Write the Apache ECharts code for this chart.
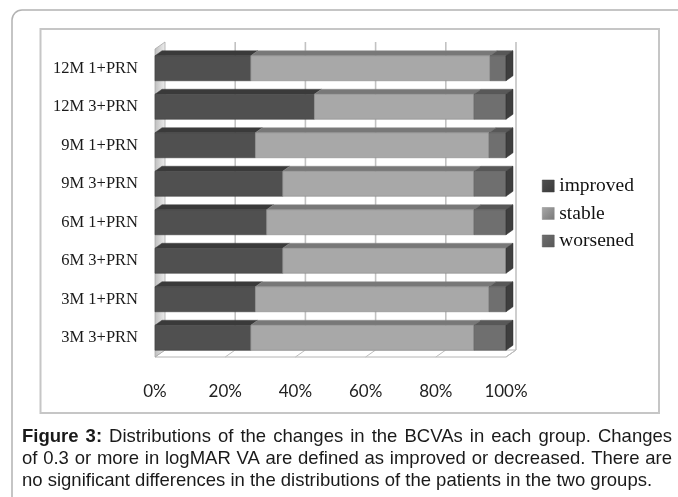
<!DOCTYPE html>
<html>
<head>
<meta charset="utf-8">
<script src="https://cdn.jsdelivr.net/npm/echarts@6/dist/echarts.min.js"></script>
<style>
  html, body { margin: 0; padding: 0; background: #ffffff; }
  #chart { width: 678px; height: 497px; }
</style>
</head>
<body>
<div id="chart"></div>
<script>
// Groups, listed bottom to top on the category axis
const categories = ['3M 3+PRN', '3M 1+PRN', '6M 3+PRN', '6M 1+PRN', '9M 3+PRN', '9M 1+PRN', '12M 3+PRN', '12M 1+PRN'];
// Share of patients (%) in each outcome class
const improved = [27.3, 28.6, 36.4, 31.8, 36.4, 28.6, 45.4, 27.3];
const stable   = [63.6, 66.6, 63.6, 59.1, 54.5, 66.6, 45.5, 68.2];
const worsened = [9.1, 4.8, 0, 9.1, 9.1, 4.8, 9.1, 4.5];
const seriesNames = ['improved', 'stable', 'worsened'];
const tickValues = [0, 20, 40, 60, 80, 100];

const captionLead = ['Figure', '3:'];
const captionLines = [
  'Distributions of the changes in the BCVAs in each group. Changes',
  'of 0.3 or more in logMAR VA are defined as improved or decreased. There are',
  'no significant differences in the distributions of the patients in the two groups.'
];

// 3D look: depth offset of the walls and of the bars
const WALL_DX = 10, WALL_DY = -7;
const BAR_DX = 7, BAR_DY = -5;

const palette = {
  improved: { front: '#505050', top: '#3a3a3a', side: '#333333', edge: '#404040' },
  stable:   { front: '#a8a8a8', top: '#787878', side: '#404040', edge: '#8a8a8a' },
  worsened: { front: '#6f6f6f', top: '#585858', side: '#3e3e3e', edge: '#5a5a5a' }
};

const valueLists = [improved, stable, worsened];

// Build [categoryIndex, start, end, isLastSegment] rows for each outcome class
function segmentRows(k) {
  return categories.map(function (_, i) {
    let start = 0;
    for (let j = 0; j < k; j++) start += valueLists[j][i];
    const end = start + valueLists[k][i];
    let lastK = 0;
    for (let j = 0; j < valueLists.length; j++) if (valueLists[j][i] > 0) lastK = j;
    return [i, start, end, lastK === k ? 1 : 0];
  });
}

function makeBarRenderer(colors) {
  return function (params, api) {
    const cat = api.value(0), s = api.value(1), e = api.value(2), last = api.value(3);
    if (e - s <= 0) return { type: 'group', children: [] };
    const a = api.coord([s, cat]);
    const b = api.coord([e, cat]);
    const h = api.size([0, 1])[1] * 0.65;
    const top = a[1] - h / 2, bot = a[1] + h / 2;
    const children = [
      {
        type: 'polygon',
        shape: { points: [[a[0], top], [b[0], top], [b[0] + BAR_DX, top + BAR_DY], [a[0] + BAR_DX, top + BAR_DY]] },
        style: { fill: colors.top, stroke: colors.edge, lineWidth: 0.5 }
      },
      {
        type: 'rect',
        shape: { x: a[0], y: top, width: b[0] - a[0], height: h },
        style: { fill: colors.front, stroke: colors.edge, lineWidth: 0.6 }
      }
    ];
    if (last) {
      children.push({
        type: 'polygon',
        shape: { points: [[b[0], top], [b[0] + BAR_DX, top + BAR_DY], [b[0] + BAR_DX, bot + BAR_DY], [b[0], bot]] },
        style: { fill: colors.side, stroke: '#2e2e2e', lineWidth: 0.5 }
      });
    }
    return { type: 'group', children: children };
  };
}

// Floor, left wall and back-wall gridlines, one item per tick value
function renderWalls(params, api) {
  const cs = params.coordSys;
  const x = api.coord([api.value(0), 0])[0];
  const top = cs.y, bot = cs.y + cs.height;
  const x0 = cs.x, x1 = cs.x + cs.width;
  const children = [];
  if (params.dataIndex === 0) {
    children.push({
      type: 'polygon',
      shape: { points: [[x0, bot], [x1, bot], [x1 + WALL_DX, bot + WALL_DY], [x0 + WALL_DX, bot + WALL_DY]] },
      style: { fill: '#ffffff', stroke: '#b4b4b4', lineWidth: 1 }
    });
    children.push({
      type: 'polygon',
      shape: { points: [[x0, bot], [x0, top], [x0 + WALL_DX, top + WALL_DY], [x0 + WALL_DX, bot + WALL_DY]] },
      style: {
        fill: new echarts.graphic.LinearGradient(0, 0, 1, 0, [
          { offset: 0, color: '#bdbdbd' }, { offset: 1, color: '#eeeeee' }
        ]),
        stroke: '#a8a8a8', lineWidth: 0.8
      }
    });
  } else {
    children.push({
      type: 'line',
      shape: { x1: x + WALL_DX, y1: top + WALL_DY, x2: x + WALL_DX, y2: bot + WALL_DY },
      style: { stroke: '#c2c2c2', lineWidth: 1.6 }
    });
    children.push({
      type: 'line',
      shape: { x1: x, y1: bot, x2: x + WALL_DX, y2: bot + WALL_DY },
      style: { stroke: '#bdbdbd', lineWidth: 1 }
    });
  }
  return { type: 'group', children: children };
}

// Caption laid out word by word so the full lines are justified
const CAP_FONT = '"Liberation Sans", Arial, sans-serif';
const CAP_SIZE = 18.5;
const CAP_LEFT = 22, CAP_RIGHT = 672;
const measureCtx = document.createElement('canvas').getContext('2d');
function wordWidth(w, bold) {
  measureCtx.font = (bold ? 'bold ' : '') + CAP_SIZE + 'px ' + CAP_FONT;
  return measureCtx.measureText(w).width;
}
function captionGraphics() {
  const out = [];
  const lineTops = [427, 449.5, 471.5];
  captionLines.forEach(function (line, li) {
    let words = line.split(' ').map(function (w) { return { t: w, b: false }; });
    if (li === 0) words = captionLead.map(function (w) { return { t: w, b: true }; }).concat(words);
    const widths = words.map(function (w) { return wordWidth(w.t, w.b); });
    const total = widths.reduce(function (s, v) { return s + v; }, 0);
    const justify = li < captionLines.length - 1;
    const gap = justify ? (CAP_RIGHT - CAP_LEFT - total) / (words.length - 1) : wordWidth(' ', false);
    let x = CAP_LEFT;
    words.forEach(function (w, wi) {
      out.push({
        type: 'text', x: x, y: lineTops[li], silent: true,
        style: {
          text: w.t, fill: '#1a1a1a', font: (w.b ? 'bold ' : '') + CAP_SIZE + 'px ' + CAP_FONT,
          verticalAlign: 'top'
        }
      });
      x += widths[wi] + gap;
    });
  });
  return out;
}

const chart = echarts.init(document.getElementById('chart'), null, { renderer: 'canvas' });

const barSeries = seriesNames.map(function (name, k) {
  return {
    name: name,
    type: 'custom',
    coordinateSystem: 'cartesian2d',
    renderItem: makeBarRenderer(palette[name]),
    itemStyle: { color: palette[name].front },
    encode: { x: [1, 2], y: 0 },
    data: segmentRows(k),
    z: 3,
    silent: true
  };
});

const option = {
  animation: false,
  backgroundColor: '#ffffff',
  grid: { left: 155, right: 172, top: 49, bottom: 140, containLabel: false },
  xAxis: {
    type: 'value', min: 0, max: 100, interval: 20,
    axisLine: { show: false }, axisTick: { show: false }, splitLine: { show: false },
    axisLabel: {
      formatter: '{value}%', margin: 26, color: '#222222',
      fontFamily: 'Lato', fontSize: 17
    }
  },
  yAxis: {
    type: 'category', data: categories,
    axisLine: { show: false }, axisTick: { show: false },
    axisLabel: { margin: 17, color: '#1a1a1a', fontFamily: '"Liberation Serif", "Times New Roman", serif', fontSize: 16.5 }
  },
  legend: {
    orient: 'vertical', left: 542, top: 176, padding: 0,
    itemWidth: 12, itemHeight: 12, itemGap: 7.5, icon: 'rect',
    textStyle: { fontFamily: '"Liberation Serif", "Times New Roman", serif', fontSize: 19.5, color: '#111111' },
    data: seriesNames.map(function (n) {
      return {
        name: n,
        itemStyle: {
          color: new echarts.graphic.LinearGradient(0, 0, 1, 1, [
            { offset: 0, color: palette[n].front }, { offset: 1, color: palette[n].top }
          ]),
          borderColor: palette[n].edge, borderWidth: 0.5
        }
      };
    })
  },
  graphic: [
    {
      type: 'rect', silent: true, z: -10,
      shape: { x: 12, y: 10, width: 720, height: 520, r: 10 },
      style: { fill: 'none', stroke: '#b2b2b2', lineWidth: 1.5 }
    },
    {
      type: 'rect', silent: true, z: -9,
      shape: { x: 40.5, y: 29, width: 618.5, height: 384 },
      style: { fill: 'none', stroke: '#c6c6c6', lineWidth: 2 }
    }
  ].concat(captionGraphics()),
  series: [
    {
      name: 'walls', type: 'custom', coordinateSystem: 'cartesian2d',
      renderItem: renderWalls, encode: { x: 0 },
      data: tickValues.map(function (v) { return [v]; }),
      z: 1, silent: true
    }
  ].concat(barSeries)
};

chart.setOption(option);
</script>
</body>
</html>
